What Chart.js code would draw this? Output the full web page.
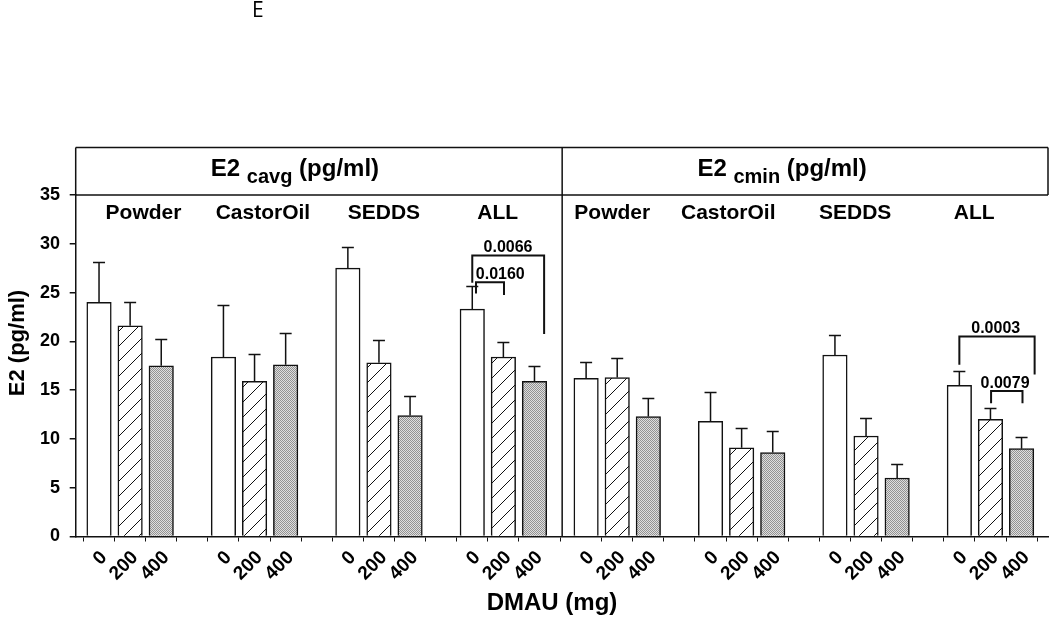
<!DOCTYPE html>
<html><head><meta charset="utf-8">
<script src="https://cdn.jsdelivr.net/npm/chart.js@4.4.0/dist/chart.umd.min.js"></script>
<style>html,body{margin:0;padding:0;background:#fff;} canvas{display:block;}</style>
</head><body>
<canvas id="c" width="1050" height="620"></canvas>
<script>
// ---------- data ----------
const formulations = ['Powder', 'CastorOil', 'SEDDS', 'ALL'];
const doses = ['0', '200', '400'];
const panelSubscripts = ['cavg', 'cmin'];
const yTickValues = [0, 5, 10, 15, 20, 25, 30, 35];

// E2 cavg (pg/ml): mean per formulation, one array per DMAU dose
const cavgDose0   = [24.0, 18.4, 27.5, 23.3];
const cavgDose200 = [21.6, 15.9, 17.8, 18.4];
const cavgDose400 = [17.5, 17.6, 12.4, 15.9];
// upper error (SEM)
const cavgErr0    = [4.1, 5.3, 2.2, 2.4];
const cavgErr200  = [2.4, 2.8, 2.3, 1.5];
const cavgErr400  = [2.7, 3.3, 2.0, 1.6];

// E2 cmin (pg/ml)
const cminDose0   = [16.2, 11.8, 18.6, 15.5];
const cminDose200 = [16.3, 9.1, 10.3, 12.0];
const cminDose400 = [12.3, 8.6, 6.0, 9.0];
const cminErr0    = [1.7, 3.0, 2.1, 1.5];
const cminErr200  = [2.0, 2.05, 1.8, 1.2];
const cminErr400  = [1.9, 2.2, 1.4, 1.2];

// significance brackets (panel, slot range within panel, values)
const pValues   = ['0.0066', '0.0160', '0.0003', '0.0079'];
const pPanel    = [0, 0, 1, 1];
const pFrom     = [12.0, 12.12, 12.0, 13.02];
const pTo       = [14.31, 13.02, 14.42, 14.03];
const pTop      = [28.8, 26.05, 20.5, 14.9];
const pLeftEnd  = [26.0, 24.9, 17.6, 13.65];
const pRightEnd = [20.75, 24.75, 16.6, 13.65];
const pLabelX   = [13.15, 12.9, 13.17, 13.47];

// ---------- layout (slot units on the x scale) ----------
const slotsPerGroup = 4;
const panelStart = [0, 15.66];
const xMin = -0.75, xMax = 30.51, dividerX = 14.89;
const groupLabelShiftL = [0.43, 0.27, 0.16, -0.18];
const groupLabelShiftR = [-0.16, -0.43, -0.35, -0.52];
const FONT = "'Liberation Sans', Arial, sans-serif";

const ctx = document.getElementById('c').getContext('2d');

function hatchPattern() {
  const n = 15;
  const c = document.createElement('canvas'); c.width = c.height = n;
  const x = c.getContext('2d');
  x.fillStyle = '#fff'; x.fillRect(0, 0, n, n);
  x.strokeStyle = '#111'; x.lineWidth = 1;
  [[-1, n + 1, n + 1, -1], [-1, 1, 1, -1], [n - 1, n + 1, n + 1, n - 1]].forEach(s => {
    x.beginPath(); x.moveTo(s[0], s[1]); x.lineTo(s[2], s[3]); x.stroke();
  });
  return ctx.createPattern(c, 'repeat');
}
function dotPattern() {
  const c = document.createElement('canvas'); c.width = c.height = 2;
  const x = c.getContext('2d');
  x.fillStyle = '#dedede'; x.fillRect(0, 0, 2, 2);
  x.fillStyle = '#929292'; x.fillRect(0, 0, 1, 1); x.fillRect(1, 1, 1, 1);
  return ctx.createPattern(c, 'repeat');
}
const fills = ['#ffffff', hatchPattern(), dotPattern()];

const meansByDose = [[cavgDose0, cavgDose200, cavgDose400], [cminDose0, cminDose200, cminDose400]];
const errsByDose  = [[cavgErr0, cavgErr200, cavgErr400], [cminErr0, cminErr200, cminErr400]];
function slotX(p, g, d) { return panelStart[p] + g * slotsPerGroup + d; }

const datasets = doses.map((dose, d) => {
  const data = [], errs = [];
  for (let p = 0; p < 2; p++) for (let g = 0; g < formulations.length; g++) {
    data.push({ x: slotX(p, g, d), y: meansByDose[p][d][g] });
    errs.push(errsByDose[p][d][g]);
  }
  return { label: dose + ' mg', data, errs, backgroundColor: fills[d], borderColor: '#111',
           borderWidth: 1.5, barThickness: 24.5, grouped: false };
});

const tickPositions = [];
for (let p = 0; p < 2; p++) for (let k = 0; k < 15; k++) tickPositions.push(panelStart[p] + k);
function labelFor(v) {
  const p = v >= panelStart[1] - 0.5 ? 1 : 0;
  const k = Math.round(v - panelStart[p]);
  const d = k % slotsPerGroup;
  return d < doses.length ? doses[d] : '';
}

const decor = {
  id: 'decor',
  afterDatasetsDraw(chart) {
    const c = chart.ctx, ys = chart.scales.y;
    c.save(); c.strokeStyle = '#111'; c.lineWidth = 1.5;
    chart.data.datasets.forEach((ds, i) => {
      chart.getDatasetMeta(i).data.forEach((bar, j) => {
        const top = Math.round(ys.getPixelForValue(ds.data[j].y + ds.errs[j])) + 0.5;
        c.beginPath(); c.moveTo(bar.x, bar.y); c.lineTo(bar.x, top);
        c.moveTo(bar.x - 6, top); c.lineTo(bar.x + 6, top); c.stroke();
      });
    });
    c.restore();
  },
  afterDraw(chart) {
    const c = chart.ctx, xs = chart.scales.x, ys = chart.scales.y, a = chart.chartArea;
    const px = v => xs.getPixelForValue(v), py = v => ys.getPixelForValue(v);
    const boxTop = 147.5, mid = px(dividerX);
    c.save();
    c.strokeStyle = '#111'; c.lineWidth = 1.5;
    c.beginPath();
    c.moveTo(a.left, boxTop); c.lineTo(a.right, boxTop);
    c.moveTo(a.left, boxTop); c.lineTo(a.left, a.top);
    c.moveTo(a.right, boxTop); c.lineTo(a.right, a.top);
    c.moveTo(a.left, a.top); c.lineTo(a.right, a.top);
    c.moveTo(mid, boxTop); c.lineTo(mid, a.bottom);
    c.stroke();

    c.fillStyle = '#000';
    // panel headers
    const centers = [(a.left + mid) / 2 - 24, (mid + a.right) / 2 - 23];
    centers.forEach((cx, p) => {
      const mainF = "bold 24px " + FONT, subF = "bold 20px " + FONT;
      c.font = mainF; const w1 = c.measureText('E2 ').width; const w3 = c.measureText(' (pg/ml)').width;
      c.font = subF; const w2 = c.measureText(panelSubscripts[p]).width;
      let x = cx - (w1 + w2 + w3) / 2;
      c.textBaseline = 'alphabetic'; c.textAlign = 'left';
      c.font = mainF; c.fillText('E2 ', x, 176); x += w1;
      c.font = subF; c.fillText(panelSubscripts[p], x, 183); x += w2;
      c.font = mainF; c.fillText(' (pg/ml)', x, 176);
    });
    // formulation labels
    c.font = "bold 21px " + FONT; c.textAlign = 'center';
    formulations.forEach((f, g) => {
      c.fillText(f, px(slotX(0, g, 1) + groupLabelShiftL[g]), 218.5);
      c.fillText(f, px(slotX(1, g, 1) + groupLabelShiftR[g]), 218.5);
    });
    // significance brackets
    c.lineWidth = 2;
    c.font = "bold 16px " + FONT;
    pValues.forEach((lab, i) => {
      const x1 = px(panelStart[pPanel[i]] + pFrom[i]), x2 = px(panelStart[pPanel[i]] + pTo[i]);
      const yt = py(pTop[i]);
      c.beginPath();
      c.moveTo(x1, py(pLeftEnd[i])); c.lineTo(x1, yt); c.lineTo(x2, yt); c.lineTo(x2, py(pRightEnd[i]));
      c.stroke();
      c.textAlign = 'center';
      c.fillText(lab, px(panelStart[pPanel[i]] + pLabelX[i]), yt - 3);
    });
    // axis titles
    c.font = "bold 22px " + FONT; c.textAlign = 'center'; c.textBaseline = 'middle';
    c.save(); c.translate(18, 343); c.rotate(-Math.PI / 2); c.fillText('E2 (pg/ml)', 0, 0); c.restore();
    c.font = "bold 24px " + FONT;
    c.fillText('DMAU (mg)', 552, 603);
    // panel letter
    c.font = "21px 'Open Sans', sans-serif"; c.textAlign = 'left'; c.textBaseline = 'top';
    c.fillText('E', 252, 1);
    c.restore();
  }
};

new Chart(ctx, {
  type: 'bar',
  data: { datasets },
  options: {
    responsive: false, animation: false, devicePixelRatio: 1,
    layout: { padding: { top: 195, left: 0, right: 2, bottom: 0 } },
    plugins: { legend: { display: false }, tooltip: { enabled: false } },
    scales: {
      x: {
        type: 'linear', min: xMin, max: xMax, offset: false,
        afterBuildTicks: s => { s.ticks = tickPositions.map(v => ({ value: v })); },
        afterFit: s => { s.height = 83.5; },
        grid: { display: true, drawOnChartArea: false, drawTicks: true, tickLength: 5, color: '#111', lineWidth: 1 },
        border: { display: true, color: '#111', width: 1.5 },
        ticks: { autoSkip: false, minRotation: 45, maxRotation: 45, padding: 5, labelOffset: 5,
                 font: { family: FONT, weight: 'bold', size: 19 }, color: '#000',
                 callback: v => labelFor(v) }
      },
      y: {
        min: 0, max: 35,
        afterBuildTicks: s => { s.ticks = yTickValues.map(v => ({ value: v })); },
        afterFit: s => { s.width = 75.7; },
        grid: { display: true, drawOnChartArea: false, drawTicks: true, tickLength: 6, color: '#111', lineWidth: 1.5 },
        border: { display: true, color: '#111', width: 1.5 },
        ticks: { padding: 9.7, font: { family: FONT, weight: 'bold', size: 18 }, color: '#000' }
      }
    }
  },
  plugins: [decor]
});
</script>
</body></html>
